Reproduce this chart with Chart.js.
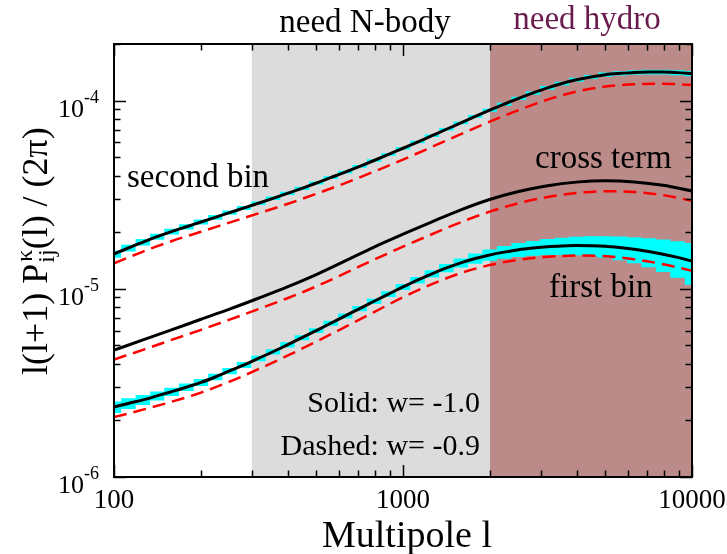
<!DOCTYPE html>
<html>
<head>
<meta charset="utf-8">
<script src="https://cdn.jsdelivr.net/npm/chart.js@4.4.1/dist/chart.umd.min.js"></script>
<style>
  html, body { margin: 0; padding: 0; background: #fff; }
  #wrap { width: 727px; height: 554px; }
</style>
</head>
<body>
<div id="wrap"><canvas id="chart" width="727" height="554"></canvas></div>
<script>
// multipoles for the smooth curves (0.1 dex steps)
const ells = [100, 126, 158, 200, 251, 316, 398, 501, 631, 794, 1000,
  1259, 1585, 1995, 2512, 3162, 3981, 5012, 6310, 7943, 10000];

// finer grid: bin centres of the measured spectra (0.05 dex steps)
const binElls = [100, 112, 126, 141, 158, 178, 200, 224, 251, 282, 316,
  355, 398, 447, 501, 562, 631, 708, 794, 891, 1000, 1122, 1259, 1413,
  1585, 1778, 1995, 2239, 2512, 2818, 3162, 3548, 3981, 4467, 5012,
  5623, 6310, 7079, 7943, 8913, 10000];

// solid, w = -1.0
const secondBin = [1.531e-5, 1.648e-5, 1.770e-5, 1.892e-5, 2.014e-5, 2.138e-5,
  2.265e-5, 2.399e-5, 2.541e-5, 2.692e-5, 2.851e-5, 3.027e-5, 3.214e-5,
  3.420e-5, 3.648e-5, 3.899e-5, 4.169e-5, 4.477e-5, 4.808e-5, 5.176e-5,
  5.585e-5, 6.026e-5, 6.516e-5, 7.047e-5, 7.621e-5, 8.241e-5, 8.892e-5,
  9.572e-5, 1.028e-4, 1.099e-4, 1.169e-4, 1.233e-4, 1.291e-4, 1.337e-4,
  1.374e-4, 1.396e-4, 1.413e-4, 1.419e-4, 1.419e-4, 1.409e-4, 1.393e-4];
const firstBin = [2.355e-6, 2.46e-6, 2.57e-6, 2.70e-6, 2.84e-6, 3.00e-6,
  3.18e-6, 3.40e-6, 3.66e-6, 3.94e-6, 4.27e-6, 4.63e-6, 5.04e-6, 5.50e-6,
  6.00e-6, 6.56e-6, 7.18e-6, 7.85e-6, 8.59e-6, 9.38e-6, 1.023e-5, 1.112e-5,
  1.202e-5, 1.291e-5, 1.374e-5, 1.449e-5, 1.514e-5, 1.567e-5, 1.614e-5,
  1.648e-5, 1.675e-5, 1.690e-5, 1.698e-5, 1.694e-5, 1.683e-5, 1.656e-5,
  1.622e-5, 1.578e-5, 1.528e-5, 1.469e-5, 1.403e-5];
const crossTerm = [4.72e-6, 5.35e-6, 6.05e-6, 6.89e-6, 7.80e-6, 8.91e-6,
  1.023e-5, 1.189e-5, 1.406e-5, 1.667e-5, 1.950e-5, 2.270e-5, 2.630e-5,
  2.985e-5, 3.289e-5, 3.532e-5, 3.690e-5, 3.750e-5, 3.698e-5, 3.548e-5, 3.311e-5];

// dashed, w = -0.9
const secondBinW09 = [1.365e-5, 1.578e-5, 1.791e-5, 2.009e-5, 2.249e-5, 2.518e-5,
  2.825e-5, 3.199e-5, 3.648e-5, 4.198e-5, 4.864e-5, 5.675e-5, 6.637e-5,
  7.727e-5, 8.913e-5, 1.012e-4, 1.117e-4, 1.189e-4, 1.222e-4, 1.230e-4, 1.211e-4];
const crossTermW09 = [4.21e-6, 4.74e-6, 5.35e-6, 6.05e-6, 6.86e-6, 7.80e-6,
  8.91e-6, 1.030e-5, 1.211e-5, 1.429e-5, 1.675e-5, 1.950e-5, 2.259e-5,
  2.570e-5, 2.851e-5, 3.076e-5, 3.228e-5, 3.304e-5, 3.273e-5, 3.148e-5, 2.938e-5];
const firstBinW09 = [2.08e-6, 2.28e-6, 2.51e-6, 2.81e-6, 3.21e-6, 3.74e-6,
  4.41e-6, 5.24e-6, 6.27e-6, 7.52e-6, 9.02e-6, 1.059e-5, 1.213e-5,
  1.337e-5, 1.426e-5, 1.479e-5, 1.503e-5, 1.489e-5, 1.435e-5, 1.352e-5, 1.247e-5];

// fractional half-width of the cyan error boxes, per bin
const secondErr = [0.045, 0.042, 0.04, 0.037, 0.035, 0.032, 0.03, 0.028, 0.026, 0.024,
  0.022, 0.021, 0.02, 0.019, 0.018, 0.017, 0.016, 0.016, 0.015, 0.015,
  0.015, 0.015, 0.015, 0.016, 0.016, 0.017, 0.018, 0.019, 0.02, 0.021,
  0.022, 0.023, 0.024, 0.025, 0.026, 0.027, 0.028, 0.029, 0.03, 0.031, 0.032];
const firstErr = [0.07, 0.065, 0.06, 0.055, 0.05, 0.045, 0.042, 0.04, 0.038, 0.036,
  0.034, 0.032, 0.031, 0.03, 0.03, 0.03, 0.03, 0.031, 0.032, 0.034,
  0.036, 0.04, 0.045, 0.05, 0.056, 0.063, 0.07, 0.078, 0.085, 0.09,
  0.097, 0.105, 0.113, 0.122, 0.132, 0.144, 0.158, 0.175, 0.195, 0.22, 0.25];

// shaded regimes: [from, to]
const nbodyRange = [300, 2000];
const hydroRange = [2000, 10000];

const xTicks = [100, 1000, 10000];
const xTickLabels = ["100", "1000", "10000"];
const yTicks = [1e-6, 1e-5, 1e-4];
const yTickExps = ["-6", "-5", "-4"];

const SERIF = '"Liberation Serif", "Times New Roman", serif';

function pts(xs, ys) {
  return xs.map((x, i) => ({ x: x, y: ys[i] }));
}

function solid(data) {
  return {
    data: data, borderColor: "#000", borderWidth: 3, pointRadius: 0,
    fill: false, cubicInterpolationMode: "monotone",
  };
}

function dashed(data) {
  return {
    data: data, borderColor: "#ff0000", borderWidth: 2.5, borderDash: [13, 7],
    pointRadius: 0, fill: false, cubicInterpolationMode: "monotone",
  };
}

function band(vals, errs, sign, fill) {
  return {
    data: pts(binElls, vals.map((v, i) => v * (1 + sign * errs[i]))),
    stepped: "middle", borderWidth: 0, borderColor: "rgba(0,0,0,0)",
    pointRadius: 0, backgroundColor: "#00ffff", fill: fill,
  };
}

// fondo, marco, marcas y textos
const decor = {
  id: "decor",
  beforeDatasetsDraw(chart) {
    const { ctx, chartArea: a, scales: { x } } = chart;
    ctx.save();
    ctx.fillStyle = "#dcdcdc";
    let x0 = x.getPixelForValue(nbodyRange[0]);
    let x1 = x.getPixelForValue(nbodyRange[1]);
    ctx.fillRect(x0, a.top, x1 - x0, a.bottom - a.top);
    ctx.fillStyle = "#bb8b89";
    x0 = x.getPixelForValue(hydroRange[0]);
    x1 = x.getPixelForValue(hydroRange[1]);
    ctx.fillRect(x0, a.top, x1 - x0, a.bottom - a.top);
    ctx.restore();
  },
  afterDatasetsDraw(chart) {
    const { ctx, chartArea: a, scales: { x, y } } = chart;
    ctx.save();
    ctx.strokeStyle = "#000";
    ctx.lineWidth = 2;
    ctx.strokeRect(a.left, a.top, a.right - a.left, a.bottom - a.top);

    ctx.lineWidth = 1.5;
    ctx.beginPath();
    // x ticks, inward on bottom and top
    for (let d = 100; d <= 10000; d *= 10) {
      for (let m = 1; m < 10; m++) {
        const v = d * m;
        if (v > 10000) break;
        const px = Math.round(x.getPixelForValue(v)) + 0.5;
        const len = m === 1 ? 12 : 6.5;
        ctx.moveTo(px, a.bottom); ctx.lineTo(px, a.bottom - len);
        ctx.moveTo(px, a.top); ctx.lineTo(px, a.top + len);
      }
    }
    // y ticks, inward on left and right
    for (let d = 1e-6; d < 3e-4; d *= 10) {
      for (let m = 1; m < 10; m++) {
        const v = d * m;
        if (v > 2.01e-4) break;
        const py = Math.round(y.getPixelForValue(v)) + 0.5;
        const len = m === 1 ? 12 : 6.5;
        ctx.moveTo(a.left, py); ctx.lineTo(a.left + len, py);
        ctx.moveTo(a.right, py); ctx.lineTo(a.right - len, py);
      }
    }
    ctx.stroke();
    ctx.restore();
  },
  afterDraw(chart) {
    const { ctx, scales: { x, y } } = chart;
    ctx.save();
    ctx.fillStyle = "#000";
    ctx.textBaseline = "alphabetic";

    // x tick labels
    ctx.font = "27px " + SERIF;
    ctx.textAlign = "center";
    xTicks.forEach((v, i) => ctx.fillText(xTickLabels[i], x.getPixelForValue(v), 508));

    // y tick labels 10^n
    yTicks.forEach((v, i) => {
      const py = y.getPixelForValue(v);
      ctx.textAlign = "left";
      ctx.font = "26px " + SERIF;
      ctx.fillText("10", 58, py + 16);
      ctx.font = "18px " + SERIF;
      ctx.fillText(yTickExps[i], 84, py + 2);
    });

    // x title
    ctx.font = "38px " + SERIF;
    ctx.textAlign = "center";
    ctx.fillText("Multipole l", 407, 547);

    // y title, rotated
    ctx.save();
    ctx.translate(47, 375);
    ctx.rotate(-Math.PI / 2);
    ctx.textAlign = "left";
    let cx = 0;
    ctx.font = "36px " + SERIF;
    ctx.fillText("l(l+1) P", cx, 0);
    cx += ctx.measureText("l(l+1) P").width + 1;
    ctx.font = "24px " + SERIF;
    ctx.fillText("\u03ba", cx + 1, -15);
    ctx.fillText("ij", cx, 7);
    cx += Math.max(ctx.measureText("\u03ba").width + 1, ctx.measureText("ij").width);
    ctx.font = "36px " + SERIF;
    ctx.fillText("(l) / (2\u03c0)", cx, 0);
    ctx.restore();

    // region labels above the frame
    ctx.font = "33px " + SERIF;
    ctx.textAlign = "center";
    ctx.fillText("need N-body", 365, 32);
    ctx.fillStyle = "#6a1b4d";
    ctx.fillText("need hydro", 587, 29);

    // curve labels
    ctx.fillStyle = "#000";
    ctx.textAlign = "left";
    ctx.fillText("second bin", 127, 187);
    ctx.fillText("cross term", 535, 168);
    ctx.fillText("first bin", 549, 297);

    ctx.font = "30px " + SERIF;
    ctx.textAlign = "right";
    ctx.fillText("Solid: w= -1.0", 480, 412);
    ctx.fillText("Dashed: w= -0.9", 480, 455);
    ctx.restore();
  },
};

new Chart(document.getElementById("chart"), {
  type: "line",
  data: {
    datasets: [
      solid(pts(binElls, secondBin)),
      solid(pts(ells, crossTerm)),
      solid(pts(binElls, firstBin)),
      dashed(pts(ells, secondBinW09)),
      dashed(pts(ells, crossTermW09)),
      dashed(pts(ells, firstBinW09)),
      band(secondBin, secondErr, -1, false),
      band(secondBin, secondErr, 1, "-1"),
      band(firstBin, firstErr, -1, false),
      band(firstBin, firstErr, 1, "-1"),
    ],
  },
  options: {
    responsive: false,
    devicePixelRatio: 1,
    animation: false,
    events: [],
    layout: { padding: { left: 114, right: 35, top: 44, bottom: 77 } },
    plugins: { legend: { display: false }, tooltip: { enabled: false } },
    scales: {
      x: { type: "logarithmic", min: 100, max: 10000, display: false },
      y: { type: "logarithmic", min: 1e-6, max: 2e-4, display: false },
    },
  },
  plugins: [decor],
});
</script>
</body>
</html>
